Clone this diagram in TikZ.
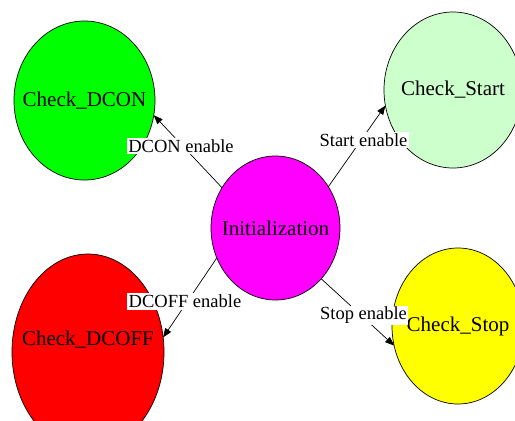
\documentclass[tikz,border=0pt]{standalone}
\usepackage{fontspec}
\setmainfont{Liberation Serif}
\usetikzlibrary{shapes.geometric,arrows.meta}
\definecolor{paleGreen}{RGB}{204,255,204}
\definecolor{pureGreen}{RGB}{0,255,0}
\definecolor{pureMagenta}{RGB}{255,0,255}
\definecolor{pureRed}{RGB}{255,0,0}
\definecolor{pureYellow}{RGB}{255,255,0}
\begin{document}
\begin{tikzpicture}[x=1pt,y=-1pt,
  state/.style={ellipse, draw=black, line width=0.7pt, inner sep=0pt, outer sep=0pt},
  stxt/.style={font=\fontsize{21}{25}\selectfont, inner sep=0pt},
  trans/.style={line width=0.7pt, -{Triangle[length=9pt,width=7pt]}},
  lbl/.style={fill=white, inner sep=1.5pt, font=\fontsize{18.5}{22}\selectfont}]
\path[use as bounding box, clip] (0,0) rectangle (515,421);
\node[state, fill=pureGreen, minimum width=141pt, minimum height=159pt,
  label={[stxt]center:Check\_DCON}] (dcon) at (84.5,100.5) {};
\node[state, fill=paleGreen, minimum width=138pt, minimum height=156pt,
  label={[stxt]center:Check\_Start}] (start) at (453,90) {};
\node[state, fill=pureMagenta, minimum width=129pt, minimum height=144pt,
  label={[stxt]center:Initialization}] (init) at (275.5,228) {};
\node[state, fill=pureRed, minimum width=152pt, minimum height=196pt,
  label={[stxt, yshift=12pt]center:Check\_DCOFF}] (dcoff) at (88,352) {};
\node[state, fill=pureYellow, minimum width=132pt, minimum height=156pt,
  label={[stxt]center:Check\_Stop}] (stop) at (458,326) {};
\draw[trans] (init.143.5) -- (dcon.-12.4);
\draw[trans] (init.38.3) -- (start.193.6);
\draw[trans] (init.207.9) -- (dcoff.11);
\draw[trans] (init.-48.2) -- (stop.197.6);
\node[lbl] (l1) at (181,146) {DCON enable};
\node[lbl] (l2) at (363.5,140) {Start enable};
\node[lbl] (l3) at (185,301.5) {DCOFF enable};
\node[lbl] (l4) at (363.5,315.5) {Stop enable};
\end{tikzpicture}
\end{document}
